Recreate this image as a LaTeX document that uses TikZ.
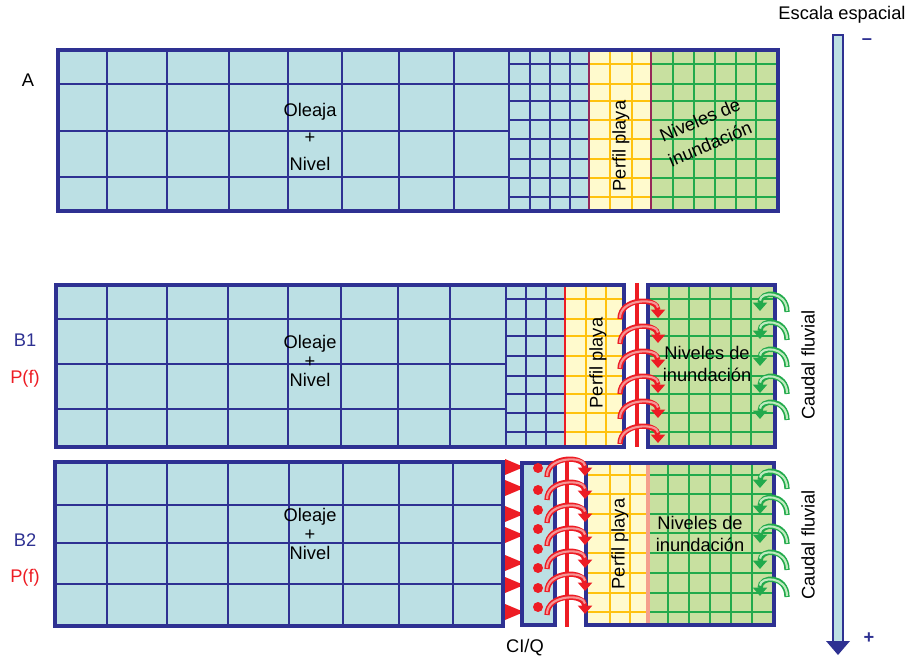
\documentclass[tikz,border=0pt]{standalone}
\usepackage{fontspec}
\setmainfont{Liberation Sans}
\usetikzlibrary{arrows.meta}
\definecolor{navy}{RGB}{46,49,146}
\definecolor{seafill}{RGB}{188,224,228}
\definecolor{beachfill}{RGB}{255,250,205}
\definecolor{beachline}{RGB}{255,194,14}
\definecolor{floodfill}{RGB}{200,224,160}
\definecolor{floodline}{RGB}{34,170,76}
\definecolor{redc}{RGB}{237,28,36}
\definecolor{pinkc}{RGB}{245,150,150}
\definecolor{palegreen}{RGB}{190,235,190}
\definecolor{purplesep}{RGB}{150,40,90}
\definecolor{salmon}{RGB}{245,160,140}

\begin{document}
\begin{tikzpicture}[x=0.01cm,y=-0.01cm,
	frame/.style={draw=navy,line width=1.2pt},
	coarse/.style={navy,line width=0.55pt},
	beachgrid/.style={beachline,line width=0.55pt},
	floodgrid/.style={floodline,line width=0.55pt},
	txt/.style={font=\fontsize{5.2}{6}\selectfont,inner sep=0pt},
	redarc/.pic={
		\draw[redc,line width=1.5pt,-{Triangle[length=2.4pt,width=4pt]}]
		(-20,9) .. controls (-20,-13) and (18,-13) .. (18,8);
		\draw[pinkc,line width=0.6pt,shorten >=2.4pt]
		(-20,8) .. controls (-20,-12) and (18,-12) .. (18,6);},
	greenarc/.pic={
		\draw[floodline,line width=1.5pt,{Triangle[length=2.4pt,width=4pt]}-]
		(-13,8) .. controls (-13,-13) and (14,-13) .. (14,9);
		\draw[palegreen,line width=0.6pt,shorten <=2.4pt]
		(-13,6) .. controls (-13,-12) and (14,-12) .. (14,8);}]
	
	\useasboundingbox (0,0) rectangle (906,658);
	
	% A
	\fill[seafill] (58,50) rectangle (589,211);
	\fill[beachfill] (589,50) rectangle (651,211);
	\fill[floodfill] (651,50) rectangle (778,211);
	\foreach \x in {107,167,229,288,342,399,454,509,530,550,570}
	\draw[coarse] (\x,50) -- (\x,211);
	\foreach \y in {84,131,177}
	\draw[coarse] (58,\y) -- (509,\y);
	\foreach \y in {64,84,101,120,139,159,178,197} {
		\draw[coarse] (509,\y) -- (589,\y);
		\draw[beachgrid] (589,\y) -- (651,\y);
		\draw[floodgrid] (651,\y) -- (778,\y);
	}
	\foreach \x in {610,632}
	\draw[beachgrid] (\x,50) -- (\x,211);
	\foreach \x in {673,694,715,736,756}
	\draw[floodgrid] (\x,50) -- (\x,211);
	\draw[purplesep,line width=0.5pt] (589,50) -- (589,211) (651,50) -- (651,211);
	\draw[frame] (58,50) rectangle (778,211);
	
	\node[txt,align=center,font=\fontsize{5.2}{7.7}\selectfont] (waveA) at (310,137) {Oleaja\\+\\Nivel};
	\node[txt,rotate=90] (beachA) at (621,146) {Perfil playa};
	\node[txt,rotate=23,align=center,font=\fontsize{5.2}{7.4}\selectfont] (floodA) at (705,132) {Niveles de\\inundación};
	\node[txt] (labA) at (28,80) {A};
	
	% B1
	\fill[seafill] (56,285) rectangle (565,447);
	\fill[beachfill] (565,285) rectangle (624,447);
	\fill[floodfill] (648,285) rectangle (775,447);
	\foreach \x in {107,167,228,288,341,398,450,506,526,546}
	\draw[coarse] (\x,285) -- (\x,447);
	\foreach \y in {319,364,409}
	\draw[coarse] (56,\y) -- (506,\y);
	\foreach \y in {299,319,336,356,376,394,413,432} {
		\draw[coarse] (506,\y) -- (565,\y);
		\draw[beachgrid] (565,\y) -- (624,\y);
		\draw[floodgrid] (648,\y) -- (775,\y);
	}
	\foreach \x in {586,606}
	\draw[beachgrid] (\x,285) -- (\x,447);
	\foreach \x in {669,689,710,731,751}
	\draw[floodgrid] (\x,285) -- (\x,447);
	\draw[redc,line width=0.4pt] (565,285) -- (565,447);
	\draw[frame] (56,285) rectangle (624,447);
	\draw[frame] (648,285) rectangle (775,447);
	\draw[redc,line width=1.1pt] (637,283) -- (637,447);
	\foreach \y in {310,335,360,385,410,435}
	\pic at (640,\y) {redarc};
	\foreach \y in {303,331,358,385,411}
	\pic at (773,\y) {greenarc};
	
	\node[txt,align=center,font=\fontsize{5.2}{5.4}\selectfont] (waveB1) at (310,361) {Oleaje\\+\\Nivel};
	\node[txt,rotate=90] (beachB1) at (598,363) {Perfil playa};
	\node[txt,align=center] (floodB1) at (707,364) {Niveles de\\inundación};
	\node[txt,navy] (labB1) at (25,340) {B1};
	\node[txt,redc] (pfB1) at (25,379) {P(f)};
	
	% B2
	\fill[seafill] (55,462) rectangle (503,626);
	\foreach \x in {107,167,228,289,343,399,453}
	\draw[coarse] (\x,462) -- (\x,626);
	\foreach \y in {505,543,584}
	\draw[coarse] (55,\y) -- (503,\y);
	\draw[frame] (55,462) rectangle (503,626);
	\foreach \y in {467,488,514,535,563,585,612}
	\fill[redc] (505,\y-8) -- (524,\y) -- (505,\y+8) -- cycle;
	\draw[frame,fill=seafill] (522,463) rectangle (555,625);
	\foreach \y in {468,490,510,529,549,568,588,607}
	\fill[redc] (538,\y) circle (5);
	
	\fill[beachfill] (586,463) rectangle (648,625);
	\fill[floodfill] (648,463) rectangle (774,625);
	\foreach \y in {475,494,514,533,553,573,593,612} {
		\draw[beachgrid] (586,\y) -- (648,\y);
		\draw[floodgrid] (648,\y) -- (774,\y);
	}
	\foreach \x in {610,630}
	\draw[beachgrid] (\x,463) -- (\x,625);
	\foreach \x in {668,689,710,731,752}
	\draw[floodgrid] (\x,463) -- (\x,625);
	\draw[salmon,line width=1.1pt] (648,463) -- (648,625);
	\draw[frame] (586,463) rectangle (774,625);
	\draw[redc,line width=1.1pt] (567,457) -- (567,627);
	\foreach \y in {468,491,514,537,560,583,606}
	\pic at (567,\y) {redarc};
	\foreach \y in {480,506,535,561,588}
	\pic at (773,\y) {greenarc};
	
	\node[txt,align=center,font=\fontsize{5.2}{5.4}\selectfont] (waveB2) at (310,534) {Oleaje\\+\\Nivel};
	\node[txt,rotate=90] (beachB2) at (620,544) {Perfil playa};
	\node[txt,align=center] (floodB2) at (700,534) {Niveles de\\inundación};
	\node[txt,navy] (labB2) at (25,540) {B2};
	\node[txt,redc] (pfB2) at (25,578) {P(f)};
	\node[txt] (ciq) at (525,648) {CI/Q};
	
	% escala
	\draw[navy,line width=0.7pt,fill=seafill] (833,35) rectangle (843,643);
	\fill[navy] (826,641) -- (850,641) -- (838,655) -- cycle;
	\node[txt] (scale) at (842,15) {Escala espacial};
	\node[txt,navy] (minus) at (867,42) {\textbf{–}};
	\node[txt,navy] (plus) at (869,638) {\textbf{+}};
	\node[txt,rotate=90] (flowB1) at (808,365) {Caudal fluvial};
	\node[txt,rotate=90] (flowB2) at (808,545) {Caudal fluvial};
	
\end{tikzpicture}
\end{document}
